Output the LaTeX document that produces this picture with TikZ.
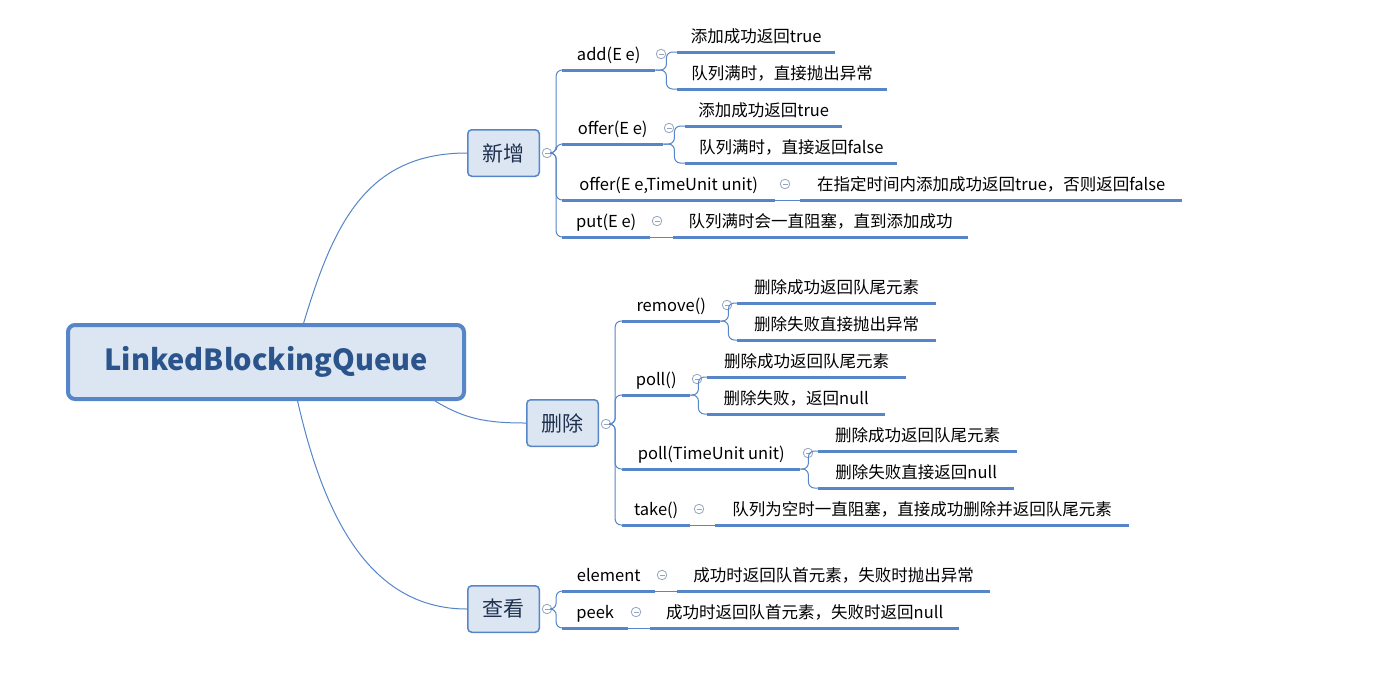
\documentclass[tikz,border=0pt]{standalone}
\usepackage{fontspec}
\setmainfont{Noto Sans CJK SC}
\usepackage{tikz}

\definecolor{lineblue}{RGB}{86,134,200}
\definecolor{boxfill}{RGB}{220,230,242}
\definecolor{roottext}{RGB}{44,84,140}
\definecolor{subtext}{RGB}{30,48,78}
\definecolor{foldgray}{RGB}{150,165,190}

\tikzset{
  rootbox/.style={draw=lineblue, line width=4pt, fill=boxfill, rounded corners=7pt,
    minimum width=396pt, minimum height=74pt, text=roottext,
    font=\fontsize{29}{34}\selectfont\bfseries},
  subbox/.style={draw=lineblue, line width=1.5pt, fill=boxfill, rounded corners=4pt,
    minimum width=71.5pt, minimum height=46.5pt, text=subtext,
    font=\fontsize{21}{25}\selectfont},
  uline/.style={draw=lineblue, line width=3pt},
  lbl/.style={anchor=south west, inner xsep=0pt, inner ysep=5.5pt, text height=12pt,
    text depth=4pt, font=\fontsize{16.5}{20}\selectfont,
    append after command={\pgfextra{\let\lblnode\tikzlastnode}
      (\lblnode.south west) edge[uline] (\lblnode.south east)}},
  branch/.style={draw=lineblue, line width=1pt},
  twig/.style={branch, rounded corners=6pt},
  fold/.style={circle, draw=foldgray, line width=0.8pt, minimum size=9.5pt, inner sep=0pt,
    path picture={\draw[foldgray, line width=0.8pt]
      ([xshift=-2.5pt]path picture bounding box.center) --
      ([xshift=2.5pt]path picture bounding box.center);}},
}

\begin{document}
\begin{tikzpicture}[x=1pt, y=-1pt]
  \fill[white] (0,0) rectangle (1378,689);
  \useasboundingbox (0,0) rectangle (1378,689);

  \node[rootbox] (root) at (266,362) {LinkedBlockingQueue};
  \node[subbox] (add) at (503.5,153) {新增};
  \node[subbox] (del) at (562.5,423) {删除};
  \node[subbox] (see) at (503.5,609) {查看};
  \node[fold] (fadd) at (547,153) {};
  \node[fold] (fdel) at (606,424) {};
  \node[fold] (fsee) at (547,609) {};

  % 新增
  \node[lbl, minimum width=93pt] (addE) at (562,70) {add(E e)};
  \node[lbl, minimum width=158pt] (addE1) at (677,52) {添加成功返回true};
  \node[lbl, minimum width=210pt] (addE2) at (677,89) {队列满时，直接抛出异常};
  \node[lbl, minimum width=101pt] (offerE) at (562,144) {offer(E e)};
  \node[lbl, minimum width=157pt] (offerE1) at (685,126) {添加成功返回true};
  \node[lbl, minimum width=212pt] (offerE2) at (685,163) {队列满时，直接返回false};
  \node[lbl, minimum width=213pt] (offerT) at (562,200) {offer(E e,TimeUnit unit)};
  \node[lbl, minimum width=382pt] (offerT1) at (800,200) {在指定时间内添加成功返回true，否则返回false};
  \node[lbl, minimum width=88pt] (putE) at (562,237) {put(E e)};
  \node[lbl, minimum width=295pt] (putE1) at (673,237) {队列满时会一直阻塞，直到添加成功};
  \node[fold] (faddE) at (661,54) {};
  \node[fold] (fofferE) at (669,128) {};
  \node[fold] (fofferT) at (785,184) {};
  \node[fold] (fputE) at (657,221) {};

  % 删除
  \node[lbl, minimum width=98pt] (removeM) at (622,321) {remove()};
  \node[lbl, minimum width=199pt] (removeM1) at (737,303) {删除成功返回队尾元素};
  \node[lbl, minimum width=199pt] (removeM2) at (737,340) {删除失败直接抛出异常};
  \node[lbl, minimum width=68pt] (pollM) at (622,395) {poll()};
  \node[lbl, minimum width=199pt] (pollM1) at (707,377) {删除成功返回队尾元素};
  \node[lbl, minimum width=178pt] (pollM2) at (707,414) {删除失败，返回null};
  \node[lbl, minimum width=178pt] (pollT) at (622,469) {poll(TimeUnit unit)};
  \node[lbl, minimum width=199pt] (pollT1) at (818,451) {删除成功返回队尾元素};
  \node[lbl, minimum width=196pt] (pollT2) at (818,488) {删除失败直接返回null};
  \node[lbl, minimum width=68pt] (takeM) at (622,525) {take()};
  \node[lbl, minimum width=414pt] (takeM1) at (715,525) {队列为空时一直阻塞，直接成功删除并返回队尾元素};
  \node[fold] (fremoveM) at (727,305) {};
  \node[fold] (fpollM) at (697,379) {};
  \node[fold] (fpollT) at (808,453) {};
  \node[fold] (ftakeM) at (699,509) {};

  % 查看
  \node[lbl, minimum width=93pt] (elementM) at (562,591) {element};
  \node[lbl, minimum width=313pt] (elementM1) at (677,591) {成功时返回队首元素，失败时抛出异常};
  \node[lbl, minimum width=66pt] (peekM) at (562,628) {peek};
  \node[lbl, minimum width=309pt] (peekM1) at (650,628) {成功时返回队首元素，失败时返回null};
  \node[fold] (felementM) at (662,575) {};
  \node[fold] (fpeekM) at (636,612) {};

  \draw[branch] (root.46) .. controls +(30,-100) and +(-100,0) .. (add.west);
  \draw[branch] (root.-13) .. controls +(30,18) and +(-40,0) .. (del.west);
  \draw[branch] (root.-51) .. controls +(25,110) and +(-100,0) .. (see.west);

  \draw[twig] (fadd.east) -- ++(4,0) |- (addE.south west);
  \draw[twig] (fadd.east) -- ++(4,0) |- (offerE.south west);
  \draw[twig] (fadd.east) -- ++(4,0) |- (offerT.south west);
  \draw[twig] (fadd.east) -- ++(4,0) |- (putE.south west);
  \draw[twig] (addE.south east) -- ++(11,0) |- (addE1.south west);
  \draw[twig] (addE.south east) -- ++(11,0) |- (addE2.south west);
  \draw[twig] (offerE.south east) -- ++(11,0) |- (offerE1.south west);
  \draw[twig] (offerE.south east) -- ++(11,0) |- (offerE2.south west);
  \draw[branch] (offerT.south east) -- (offerT1.south west);
  \draw[branch] (putE.south east) -- (putE1.south west);

  \draw[twig] (fdel.east) -- ++(4,0) |- (removeM.south west);
  \draw[twig] (fdel.east) -- ++(4,0) |- (pollM.south west);
  \draw[twig] (fdel.east) -- ++(4,0) |- (pollT.south west);
  \draw[twig] (fdel.east) -- ++(4,0) |- (takeM.south west);
  \draw[twig] (removeM.south east) -- ++(8,0) |- (removeM1.south west);
  \draw[twig] (removeM.south east) -- ++(8,0) |- (removeM2.south west);
  \draw[twig] (pollM.south east) -- ++(8,0) |- (pollM1.south west);
  \draw[twig] (pollM.south east) -- ++(8,0) |- (pollM2.south west);
  \draw[twig] (pollT.south east) -- ++(8,0) |- (pollT1.south west);
  \draw[twig] (pollT.south east) -- ++(8,0) |- (pollT2.south west);
  \draw[branch] (takeM.south east) -- (takeM1.south west);

  \draw[twig] (fsee.east) -- ++(4,0) |- (elementM.south west);
  \draw[twig] (fsee.east) -- ++(4,0) |- (peekM.south west);
  \draw[branch] (elementM.south east) -- (elementM1.south west);
  \draw[branch] (peekM.south east) -- (peekM1.south west);
\end{tikzpicture}
\end{document}
